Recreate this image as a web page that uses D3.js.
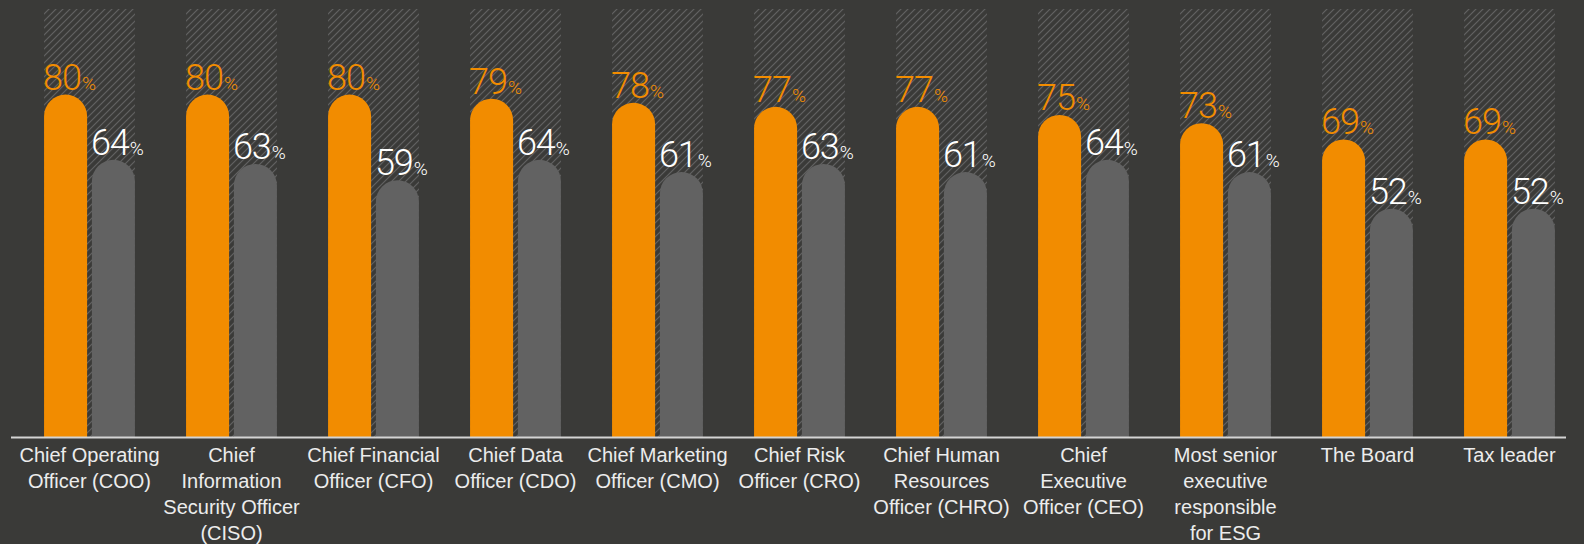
<!DOCTYPE html>
<html>
<head>
<meta charset="utf-8">
<script src="https://cdn.jsdelivr.net/npm/d3@7"></script>
<style>
  html, body { margin: 0; padding: 0; background: #3a3a38; }
  svg { display: block; }
  .cat-label { font-family: 'Liberation Sans', Arial, sans-serif; font-size: 20px; fill: #ececec; }
  .val-label { font-family: Roboto, 'Liberation Sans', sans-serif; font-weight: 300; }
</style>
</head>
<body>
<div id="chart"></div>
<script>
const categories = [
  'Chief Operating Officer (COO)',
  'Chief Information Security Officer (CISO)',
  'Chief Financial Officer (CFO)',
  'Chief Data Officer (CDO)',
  'Chief Marketing Officer (CMO)',
  'Chief Risk Officer (CRO)',
  'Chief Human Resources Officer (CHRO)',
  'Chief Executive Officer (CEO)',
  'Most senior executive responsible for ESG',
  'The Board',
  'Tax leader'
];

// wrapped lines as they appear under each group
const labelLines = [
  ['Chief Operating', 'Officer (COO)'],
  ['Chief', 'Information', 'Security Officer', '(CISO)'],
  ['Chief Financial', 'Officer (CFO)'],
  ['Chief Data', 'Officer (CDO)'],
  ['Chief Marketing', 'Officer (CMO)'],
  ['Chief Risk', 'Officer (CRO)'],
  ['Chief Human', 'Resources', 'Officer (CHRO)'],
  ['Chief', 'Executive', 'Officer (CEO)'],
  ['Most senior', 'executive', 'responsible', 'for ESG'],
  ['The Board'],
  ['Tax leader']
];

const seriesA = [80, 80, 80, 79, 78, 77, 77, 75, 73, 69, 69]; // orange
const seriesB = [64, 63, 59, 64, 61, 63, 61, 64, 61, 52, 52]; // grey
const seriesKeys = ['a', 'b'];

const width = 1584;
const height = 544;
const baseline = 437;
const backdropMax = 101;

const orange = '#f28c00';
const grey = '#626262';

const svg = d3.select('#chart')
  .append('svg')
  .attr('width', width)
  .attr('height', height);

svg.append('rect')
  .attr('width', width)
  .attr('height', height)
  .attr('fill', '#3a3a38');

// hatch pattern for the backdrop
const defs = svg.append('defs');
const pattern = defs.append('pattern')
  .attr('id', 'hatch')
  .attr('patternUnits', 'userSpaceOnUse')
  .attr('width', 7)
  .attr('height', 7);
pattern.append('path')
  .attr('d', 'M-1,1 l2,-2 M0,7 l7,-7 M6,8 l2,-2')
  .attr('stroke', '#646464')
  .attr('stroke-width', 1.1);

const xScale = d3.scaleBand()
  .domain(categories)
  .range([18.5, 1580.5])
  .paddingInner(0.36)
  .paddingOuter(0.18);

const subScale = d3.scaleBand()
  .domain(seriesKeys)
  .range([0, xScale.bandwidth()])
  .paddingInner(0.1);

const yScale = d3.scaleLinear()
  .domain([-4, backdropMax])
  .range([baseline, 9]);

const data = categories.map((c, i) => ({
  category: c,
  lines: labelLines[i],
  values: [
    { key: 'a', value: seriesA[i] },
    { key: 'b', value: seriesB[i] }
  ]
}));

const groups = svg.append('g')
  .selectAll('g.group')
  .data(data)
  .join('g')
  .attr('class', 'group')
  .attr('transform', (d) => `translate(${xScale(d.category)},0)`);

// backdrop
groups.append('rect')
  .attr('x', 0)
  .attr('y', yScale(backdropMax))
  .attr('width', xScale.bandwidth())
  .attr('height', baseline - yScale(backdropMax))
  .attr('fill', 'url(#hatch)');

// rounded-top bars
function barPath(x, w, top, bottom) {
  const r = w / 2;
  return `M${x},${bottom} L${x},${top + r} A${r},${r} 0 0 1 ${x + w},${top + r} L${x + w},${bottom} Z`;
}

groups.selectAll('path.bar')
  .data((d) => d.values)
  .join('path')
  .attr('class', 'bar')
  .attr('d', (d) => barPath(subScale(d.key), subScale.bandwidth(), yScale(d.value), baseline))
  .attr('fill', (d) => (d.key === 'a' ? orange : grey));

// value labels
const vals = groups.selectAll('text.val-label')
  .data((d) => d.values)
  .join('text')
  .attr('class', 'val-label')
  .attr('x', (d) => subScale(d.key) - 1)
  .attr('y', (d) => yScale(d.value) - 5)
  .attr('fill', (d) => (d.key === 'a' ? orange : '#ffffff'));

vals.append('tspan')
  .style('font-size', '36px')
  .style('letter-spacing', '-1px')
  .text((d) => d.value);
vals.append('tspan')
  .style('font-size', '19px')
  .attr('dx', 1)
  .text('%');

// axis line
svg.append('line')
  .attr('x1', 11)
  .attr('x2', 1566)
  .attr('y1', baseline + 0.5)
  .attr('y2', baseline + 0.5)
  .attr('stroke', '#d4d4d4')
  .attr('stroke-width', 2);

// category labels
const cat = groups.append('text')
  .attr('class', 'cat-label')
  .attr('text-anchor', 'middle')
  .attr('x', xScale.bandwidth() / 2)
  .attr('y', baseline + 25);

cat.selectAll('tspan')
  .data((d) => d.lines)
  .join('tspan')
  .attr('x', xScale.bandwidth() / 2)
  .attr('dy', (d, i) => (i === 0 ? 0 : 26))
  .text((d) => d);
</script>
</body>
</html>
